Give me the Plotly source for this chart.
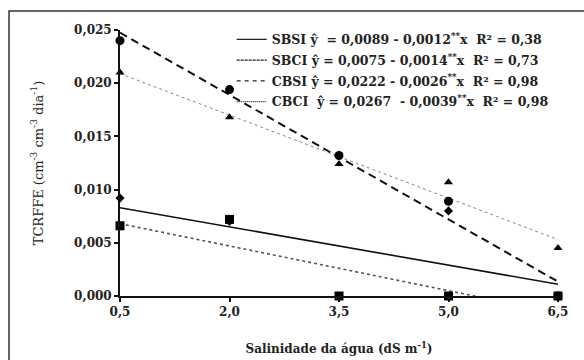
import plotly.graph_objects as go

# Data
salinity = [0.5, 2.0, 3.5, 5.0, 6.5]
x_ticks = ["0,5", "2,0", "3,5", "5,0", "6,5"]
sbsi = [0.0092, 0.0070, 0.0, 0.0080, 0.0]
sbci = [0.0066, 0.0072, 0.0, 0.0, 0.0]
cbsi = [0.0210, 0.0168, 0.0124, 0.0107, 0.0045]
cbci = [0.0240, 0.0194, 0.0132, 0.0089, 0.0]

# Fitted equations (from legend): intercept, slope
fit_sbsi = (0.0089, -0.0012)
fit_sbci = (0.0075, -0.0014)
fit_cbsi = (0.0222, -0.0026)
fit_cbci = (0.0267, -0.0039)

legend_sbsi = "SBSI ŷ  = 0,0089 - 0,0012<sup>**</sup>x  R² = 0,38"
legend_sbci = "SBCI ŷ = 0,0075 - 0,0014<sup>**</sup>x  R² = 0,73"
legend_cbsi = "CBSI ŷ = 0,0222 - 0,0026<sup>**</sup>x  R² = 0,98"
legend_cbci = "CBCI  ŷ = 0,0267  - 0,0039<sup>**</sup>x  R² = 0,98"

serif = "DejaVu Serif"

fig = go.Figure()

xs = [salinity[0], salinity[-1]]

def fit_line(fit):
    a, b = fit
    return [a + b * x for x in xs]

# Fitted lines
fig.add_trace(go.Scatter(x=xs, y=fit_line(fit_sbsi), mode="lines",
                         line=dict(color="#111", width=1.6), showlegend=False))
fig.add_trace(go.Scatter(x=xs, y=fit_line(fit_sbci), mode="lines",
                         line=dict(color="#555", width=1.6, dash="dot"), showlegend=False))
fig.add_trace(go.Scatter(x=xs, y=fit_line(fit_cbsi), mode="lines",
                         line=dict(color="#888", width=1.0, dash="dot"), showlegend=False))
fig.add_trace(go.Scatter(x=xs, y=fit_line(fit_cbci), mode="lines",
                         line=dict(color="#111", width=2.0, dash="8px,5px"), showlegend=False))

# Markers
fig.add_trace(go.Scatter(x=salinity, y=sbsi, mode="markers", cliponaxis=False,
                         marker=dict(symbol="diamond", size=7, color="black"), showlegend=False))
fig.add_trace(go.Scatter(x=salinity, y=cbsi, mode="markers", cliponaxis=False,
                         marker=dict(symbol="triangle-up", size=8, color="black"), showlegend=False))
fig.add_trace(go.Scatter(x=salinity, y=cbci, mode="markers", cliponaxis=False,
                         marker=dict(symbol="circle", size=9, color="black"), showlegend=False))
fig.add_trace(go.Scatter(x=salinity, y=sbci, mode="markers", cliponaxis=False,
                         marker=dict(symbol="square", size=9, color="black"), showlegend=False))

# Legend-only entries
for i, (name, style) in enumerate([(legend_sbsi, dict(color="#222", width=1.2)),
                                   (legend_sbci, dict(color="#222", width=1.2, dash="3px,1px")),
                                   (legend_cbsi, dict(color="#222", width=1.2, dash="4px,4px")),
                                   (legend_cbci, dict(color="#222", width=1.2, dash="1px,1px"))]):
    fig.add_trace(go.Scatter(x=[None], y=[None], mode="lines", name=name, line=style,
                             legendgroup=f"g{i}"))

fig.update_layout(
    width=584, height=360,
    margin=dict(l=120, r=26, t=30, b=64),
    paper_bgcolor="white", plot_bgcolor="white",
    separators=",.",
    font=dict(family=serif, color="#222", size=12),
    showlegend=True,
    legend=dict(x=0.255, y=1.02, xanchor="left", yanchor="top",
                bgcolor="rgba(0,0,0,0)", tracegroupgap=1.5, itemwidth=30,
                traceorder="grouped",
                font=dict(family=serif, size=12.5, weight="bold", color="#222")),
    xaxis=dict(range=[0.5, 6.5], tickvals=salinity, ticktext=x_ticks,
               showline=True, linecolor="#111", linewidth=1.8,
               ticks="outside", ticklen=4, tickcolor="#111", tickwidth=1.5,
               showgrid=False, zeroline=False, automargin=False,
               tickfont=dict(family=serif, size=12, weight="bold"),
               title=dict(text="Salinidade da água (dS m<sup>-1</sup>)", standoff=26,
                          font=dict(family=serif, size=12, weight="bold"))),
    yaxis=dict(range=[0, 0.025], dtick=0.005, tickformat=".3f",
               showline=True, linecolor="#111", linewidth=1.8,
               ticks="outside", ticklen=4, tickcolor="#111", tickwidth=1.5,
               showgrid=False, zeroline=False, automargin=False,
               tickfont=dict(family=serif, size=12, weight="bold"),
               title=dict(text="TCRFFE (cm<sup>-3</sup> cm<sup>-3</sup> dia<sup>-1</sup>)", standoff=28,
                          font=dict(family=serif, size=13))),
    shapes=[dict(type="rect", xref="paper", yref="paper",
                 x0=-0.2534, x1=1.3, y0=-0.5, y1=1.0714,
                 line=dict(color="#333", width=1.5), fillcolor="rgba(0,0,0,0)",
                 layer="below")],
)

fig.write_html("out.html")
